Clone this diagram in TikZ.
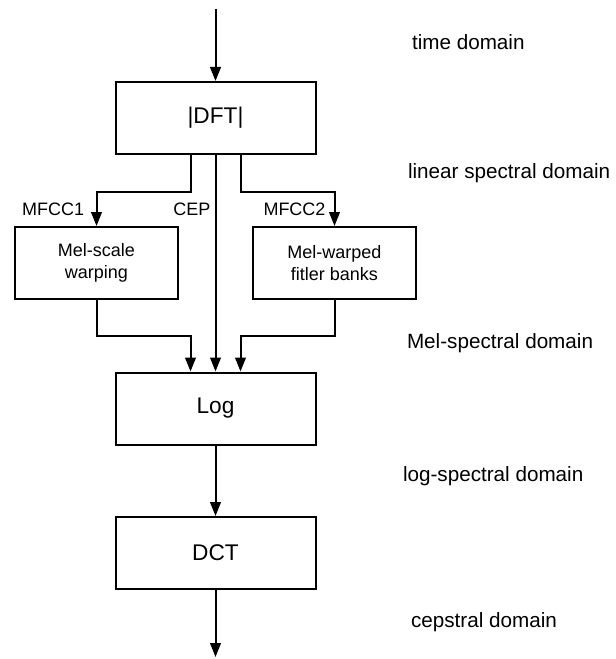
\documentclass[tikz,border=0pt]{standalone}
\usepackage{fontspec}
\setmainfont{Liberation Sans}
\usetikzlibrary{arrows.meta}

\begin{document}
\begin{tikzpicture}[x=0.75pt, y=-0.75pt, line width=1.5pt,
    >={Triangle[length=10.5pt,width=8pt]},
    block/.style={draw, minimum width=150pt, minimum height=54pt, font=\fontsize{17}{20}\selectfont},
    subblock/.style={draw, minimum width=122pt, minimum height=54pt, align=center, font=\fontsize{13.5}{16}\selectfont},
    tag/.style={font=\fontsize{13.5}{16}\selectfont, inner sep=0pt},
    domainlabel/.style={anchor=base west, inner sep=0pt, font=\fontsize{15.5}{18}\selectfont}]
  \useasboundingbox (0,0) rectangle (615,659);
  % Nodes
  \coordinate (in) at (215.5,9);
  \node[block] (dft) at (215.5,118) {|DFT|};
  \node[subblock] (melscale) at (96.5,263) {Mel-scale\\warping};
  \node[subblock] (melbank) at (334.5,263) {Mel-warped\\fitler banks};
  \node[block] (log) at (215.5,408.5) {Log};
  \node[block] (dct) at (215.5,553) {DCT};
  \coordinate (out) at (215.5,657);
  % Domains
  \node[domainlabel] (time) at (411,50) {time domain};
  \node[domainlabel] (linear) at (407,179) {linear spectral domain};
  \node[domainlabel] (mel) at (406,348) {Mel-spectral domain};
  \node[domainlabel] (logspec) at (402,481) {log-spectral domain};
  \node[domainlabel] (ceps) at (410,627) {cepstral domain};
  % Edges
  \draw[->] (in) -- (dft.north);
  \draw[->] ([xshift=-18.75pt]dft.south) -- ++(0,37)
    -| node[tag, pos=0.75, left=8.5pt] {MFCC1} (melscale.north);
  \draw[->] (dft.south) -- node[tag, pos=0.25, left=3pt] {CEP} (log.north);
  \draw[->] ([xshift=18.75pt]dft.south) -- ++(0,37)
    -| node[tag, pos=0.75, left=6pt] {MFCC2} (melbank.north);
  \draw[->] (melscale.south) -- ++(0,36) -| ([xshift=-18.75pt]log.north);
  \draw[->] (melbank.south) -- ++(0,36) -| ([xshift=18.75pt]log.north);
  \draw[->] (log) -- (dct);
  \draw[->] (dct) -- (out);
\end{tikzpicture}
\end{document}
